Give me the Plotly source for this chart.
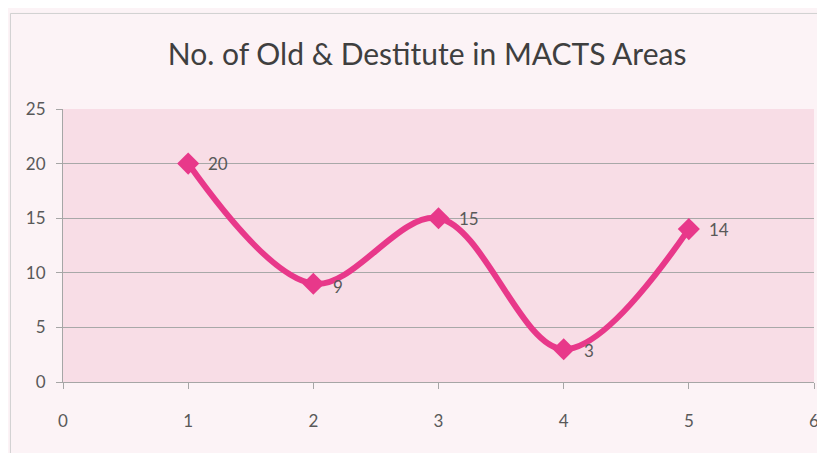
import plotly.graph_objects as go

areas = [1, 2, 3, 4, 5]
counts = [20, 9, 15, 3, 14]
x_ticks = [0, 1, 2, 3, 4, 5, 6]
y_ticks = [0, 5, 10, 15, 20, 25]

label_dy = [0, -3, 0, -1, 0]  # small vertical nudges of the data labels (px)

FONT = "Lato, Open Sans, sans-serif"
PINK = "#E8388A"

fig = go.Figure()
fig.add_trace(go.Scatter(
    x=areas, y=counts,
    mode="lines+markers",
    line=dict(color=PINK, width=6, shape="spline", smoothing=1.0),
    marker=dict(symbol="diamond", size=17, color=PINK),
    cliponaxis=False,
    showlegend=False,
))

for xv, yv, dy in zip(areas, counts, label_dy):
    fig.add_annotation(x=xv, y=yv, text=str(yv), showarrow=False,
                       xanchor="left", yanchor="middle", xshift=18, yshift=dy,
                       font=dict(family=FONT, size=17, color="#595959"))

fig.update_layout(
    width=817, height=445,
    margin=dict(l=55, r=6, t=101, b=71),
    paper_bgcolor="#fcf3f6",
    plot_bgcolor="#f8dde6",
    title=dict(text="No. of Old & Destitute in MACTS Areas",
               x=0.513, xanchor="center", y=0.895, yanchor="middle",
               font=dict(family=FONT, size=30, color="#3f3f3f")),
    xaxis=dict(range=[0, 6], tickvals=x_ticks, showgrid=False, zeroline=False,
               showline=True, linecolor="#a6a6a6", linewidth=1,
               ticks="outside", ticklen=6, tickcolor="#a6a6a6",
               ticklabelstandoff=18,
               tickfont=dict(family=FONT, size=17, color="#595959")),
    yaxis=dict(range=[0, 25], tickvals=y_ticks, showgrid=True,
               gridcolor="#a8a8a8", gridwidth=1, zeroline=False,
               showline=True, linecolor="#a6a6a6", linewidth=1,
               ticks="outside", ticklen=6, tickcolor="#a6a6a6",
               ticklabelstandoff=7,
               tickfont=dict(family=FONT, size=17, color="#595959")),
    shapes=[
        dict(type="line", xref="paper", yref="paper", x0=-0.07, x1=1.02, y0=1.35, y1=1.35,
             line=dict(color="#d0d0d0", width=1)),
        dict(type="line", xref="paper", yref="paper", x0=-0.07, x1=-0.07, y0=-0.3, y1=1.35,
             line=dict(color="#d0d0d0", width=1)),
    ],
)

fig.write_html("out.html")
